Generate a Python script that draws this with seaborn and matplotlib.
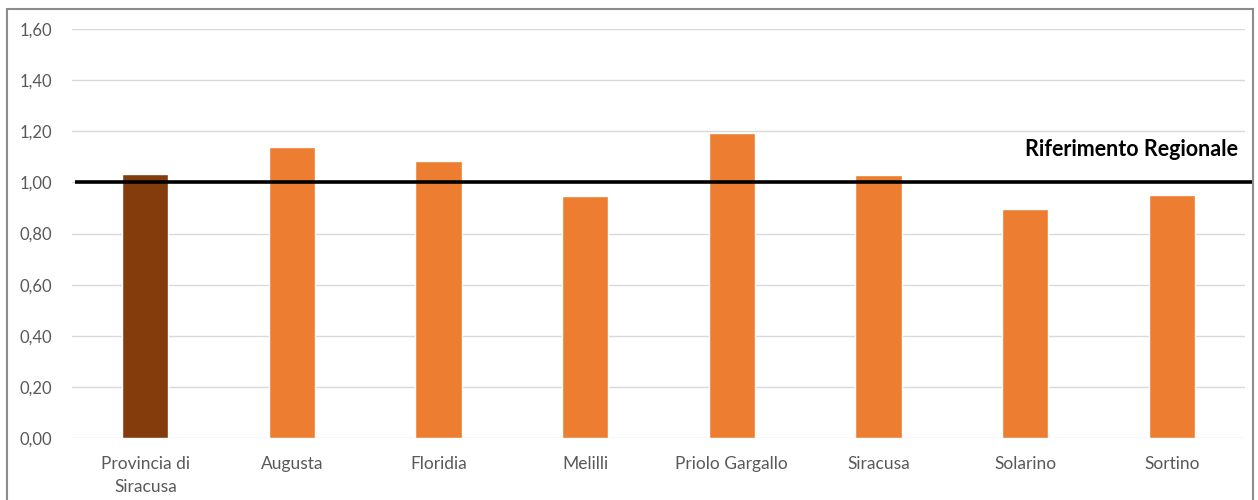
import matplotlib
matplotlib.use("Agg")
import matplotlib.pyplot as plt
from matplotlib.ticker import FuncFormatter, MultipleLocator
from matplotlib.patches import Rectangle
import seaborn as sns

# Indice per comune, rispetto al riferimento regionale (= 1,00)
categories = ["Provincia di\nSiracusa", "Augusta", "Floridia", "Melilli",
              "Priolo Gargallo", "Siracusa", "Solarino", "Sortino"]
values = [1.033, 1.138, 1.084, 0.947, 1.193, 1.029, 0.896, 0.951]
bar_colors = ["#843C0C", "#ED7D31", "#ED7D31", "#ED7D31",
              "#ED7D31", "#ED7D31", "#ED7D31", "#ED7D31"]
reference_value = 1.0
reference_label = "Riferimento Regionale"

sns.set_style("white")
plt.rcParams["font.family"] = ["Lato", "DejaVu Sans"]

fig = plt.figure(figsize=(12.58, 5.0), dpi=100)
ax = fig.add_axes([72 / 1258, 1 - 438 / 500, (1245 - 72) / 1258, (438 - 29) / 500])

sns.barplot(x=categories, y=values, hue=categories, palette=bar_colors,
            legend=False, width=0.315, saturation=1, ax=ax, zorder=2)

ax.set_ylim(0, 1.6)
ax.set_xlim(-0.5, len(categories) - 0.5)
ax.yaxis.set_major_locator(MultipleLocator(0.2))
ax.yaxis.set_major_formatter(FuncFormatter(lambda v, _: f"{v:.2f}".replace(".", ",")))
ax.grid(axis="y", color="#D9D9D9", linewidth=1.0, zorder=0)
ax.set_axisbelow(True)
for s in ax.spines.values():
    s.set_visible(False)
ax.tick_params(axis="both", length=0, labelcolor="#595959")
ax.tick_params(axis="x", pad=13, labelsize=12.5)
ax.tick_params(axis="y", pad=14, labelsize=12)
ax.set_xlabel("")
ax.set_ylabel("")
for lbl in ax.get_xticklabels():
    lbl.set_linespacing(1.5)

# Linea di riferimento regionale, estesa fino al bordo destro del riquadro
ax.plot([-0.48, 7.56], [reference_value, reference_value], color="black",
        linewidth=2.6, clip_on=False, zorder=3, solid_capstyle="butt")
ax.text(7.45, 1.13, reference_label, ha="right", va="center",
        fontsize=15.5, fontweight="bold", color="black")

# Cornice esterna del grafico
fig.patches.append(Rectangle((7 / 1258, -0.05), (1253 - 7) / 1258, 1.05 - 9 / 500,
                             transform=fig.transFigure, fill=False,
                             edgecolor="#8C8C8C", linewidth=1.5))

fig.savefig("out.png", dpi=100, facecolor="white")
